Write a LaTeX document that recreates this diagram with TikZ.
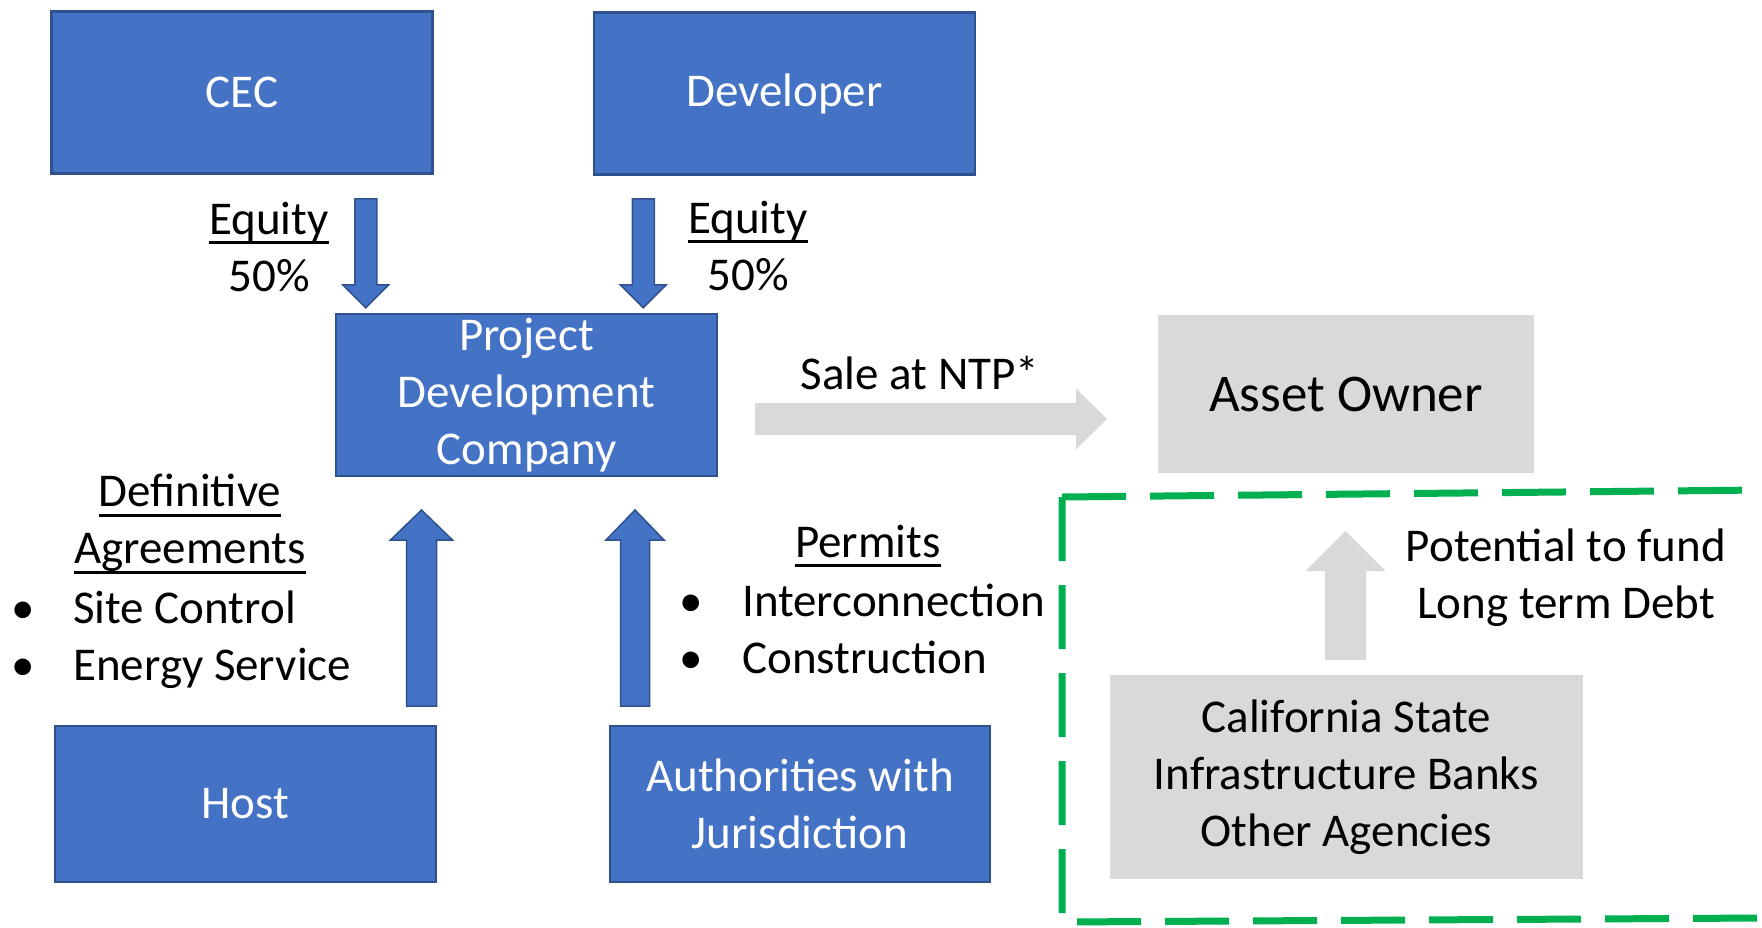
\documentclass[tikz,border=0pt]{standalone}
\usepackage{fontspec}
\setmainfont{Carlito}
\usetikzlibrary{calc}

\definecolor{boxblue}{HTML}{4472C4}
\definecolor{boxedge}{HTML}{2F528F}
\definecolor{boxgray}{HTML}{D9D9D9}
\definecolor{framegreen}{HTML}{00B050}

% underline that sits just under the baseline
\newcommand\undl[1]{\setbox0\hbox{#1}\rlap{\rule[-10pt]{\wd0}{3pt}}\box0}
% block arrow: style, from, to, shaft half width, head half width, head length
\newcommand\blockarrow[6]{%
  \coordinate (ba-neck) at ($(#3)!#6!(#2)$);
  \filldraw[#1] ($(#2)!#4!90:(#3)$) -- ($(ba-neck)!#4!90:(#3)$)
    -- ($(ba-neck)!#5!90:(#3)$) -- (#3) -- ($(ba-neck)!#5!-90:(#3)$)
    -- ($(ba-neck)!#4!-90:(#3)$) -- ($(#2)!#4!-90:(#3)$) -- cycle;}

\begin{document}
\begin{tikzpicture}[
  x=1pt, y=-1pt,
  every node/.style={inner sep=0pt, align=center, font=\fontsize{47}{57}\selectfont},
  bluebox/.style={draw=boxedge, line width=2.5pt, fill=boxblue, text=white,
    minimum width=381pt, minimum height=162pt},
  graybox/.style={fill=boxgray, text=black},
  bluearrow/.style={fill=boxblue, draw=boxedge, line width=1.5pt},
  grayarrow/.style={fill=boxgray, draw=none},
  greenframe/.style={draw=framegreen, line width=7pt, dash pattern=on 64pt off 24pt},
  ]
  \useasboundingbox (0,0) rectangle (1762,927);

  % boxes
  \node[bluebox] (cec) at (242,92.5) {CEC};
  \node[bluebox] (dev) at (784.5,93.5) {Developer};
  \node[bluebox] (pdc) at (526.5,395) {Project\\Development\\Company};
  \node[bluebox, minimum height=156pt] (host) at (245.5,804) {Host};
  \node[bluebox, minimum width=380pt, minimum height=156pt] (auth) at (800,804)
    {Authorities with\\Jurisdiction};
  \node[graybox, minimum width=376pt, minimum height=158pt,
    font=\fontsize{53}{64}\selectfont] (owner) at (1346,394) {Asset Owner};
  \node[graybox, minimum width=473pt, minimum height=204pt] (banks) at (1346.5,777)
    {California State\\Infrastructure Banks\\Other Agencies};

  % labels
  \node (eqcec) at (269,247) {\undl{Equity}\\50\%};
  \node (eqdev) at (748,246) {\undl{Equity}\\50\%};
  \node (sale) at (920,373) {Sale at NTP*};
  \node (defn) at (190,524) {\undl{Definitive}\\\undl{Agreements}};
  \node[anchor=west, align=left] (hostlist) at (11,640)
    {\makebox[62pt][l]{•}Site Control\\\makebox[62pt][l]{•}Energy Service};
  \node[anchor=base] (permits) at (868,557) {\undl{Permits}};
  \node[anchor=west, align=left] (permitlist) at (679,629)
    {\makebox[63pt][l]{•}Interconnection\\\makebox[63pt][l]{•}Construction};
  \node (fund) at (1566,577.5) {Potential to fund\\Long term Debt};

  % arrows
  \coordinate (pdcinL) at ([xshift=31pt,yshift=5pt]pdc.north west);
  \coordinate (cecout) at ([yshift=109pt]pdcinL);
  \coordinate (pdcinR) at ([xshift=-75pt,yshift=5pt]pdc.north east);
  \coordinate (devout) at ([yshift=109pt]pdcinR);
  \coordinate (hostout) at (421.5,706);
  \coordinate (pdcinH) at (421.5,510);
  \coordinate (authout) at (635,706);
  \coordinate (pdcinA) at (635,510);
  \coordinate (saleout) at (755,419);
  \coordinate (ownerin) at (1107,419);
  \coordinate (banksout) at (1345.5,660);
  \coordinate (fundin) at (1345.5,531);

  \blockarrow{bluearrow}{cecout}{pdcinL}{11pt}{23pt}{23pt}
  \blockarrow{bluearrow}{devout}{pdcinR}{11pt}{23pt}{23pt}
  \blockarrow{bluearrow}{hostout}{pdcinH}{15pt}{31pt}{30pt}
  \blockarrow{bluearrow}{authout}{pdcinA}{14.5pt}{29pt}{30pt}
  \blockarrow{grayarrow}{saleout}{ownerin}{16pt}{30.5pt}{31pt}
  \blockarrow{grayarrow}{banksout}{fundin}{20.5pt}{40pt}{40pt}

  % dashed frame, open on the right
  \draw[greenframe] (1062,497) -- (1762,490);
  \draw[greenframe] (1062,497) -- (1062,922) -- (1762,918);
\end{tikzpicture}
\end{document}
